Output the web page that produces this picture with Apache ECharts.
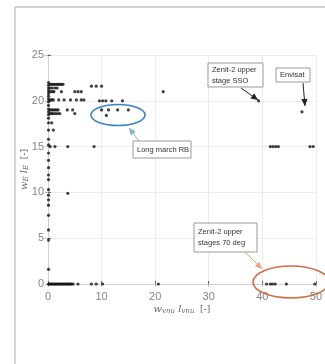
<!DOCTYPE html>
<html><head><meta charset="utf-8">
<script src="https://cdn.jsdelivr.net/npm/echarts@6/dist/echarts.min.js"></script>
<style>html,body{margin:0;padding:0;background:#fff}#c{width:325px;height:364px}</style>
</head><body><div id="c"></div>
<script>
// x-axis ticks and y-axis ticks
const xTicks = [0, 10, 20, 30, 40, 50];
const yTicks = [0, 5, 10, 15, 20, 25];

// Column of objects near w_vnu*l_vnu = 0
const colX = [0.1,0.1,0.1,0.1,0.1,0.1,0.1,0.1,0.1,0.1,0.1,0.1,0.1,0.1,0.1,0.1,0.1,0.1,0.1,0.1,0.1,0.1,0.1,0.1,0.1,0.1,0.1,0.1,0.1,0.1,0.1];
const colY = [22.0,21.7,21.4,21.1,20.8,20.5,20.2,19.9,19.5,19.1,18.8,18.5,18.1,17.6,16.8,15.8,15.2,14.3,13.5,12.7,11.9,11.4,10.3,9.7,9.2,8.6,7.5,5.9,4.8,1.6,0.0];

// Upper clusters (y ~ 18-22)
const upX = [0.4,0.7,1.0,1.3,1.6,1.9,2.2,2.5,2.8,8.1,9.0,10.0,
             0.4,0.8,1.3,1.7,
             0.4,0.8,1.1,2.5,5.0,5.6,6.2,21.5,
             0.4,0.7,1.0,2.0,3.0,4.2,5.3,6.2,6.7,9.6,10.2,10.8,11.9,13.9,
             0.4,0.7,1.0,1.3,1.6,1.9,3.6,4.6,
             0.4,0.7,1.0,1.4,1.8,2.2,5.0,
             10.0,11.3,13.0,15.0,10.9,
             0.7,1.0];
const upY = [21.8,21.8,21.8,21.8,21.8,21.8,21.8,21.8,21.8,21.6,21.6,21.6,
             21.4,21.4,21.4,21.4,
             21.0,21.0,21.0,21.0,21.0,21.0,21.0,21.0,
             20.1,20.1,20.1,20.1,20.1,20.1,20.1,20.1,20.1,20.0,20.0,20.0,20.0,20.0,
             19.0,19.0,19.0,19.0,19.0,19.0,19.0,19.0,
             18.6,18.6,18.6,18.6,18.6,18.6,18.6,
             19.0,19.0,19.0,19.0,18.4,
             17.6,16.8];

// Middle row (y ~ 15) and isolated points
const midX = [0.4,1.3,3.7,8.6,41.5,42.0,42.5,43.0,48.9,49.5,3.7,39.3,47.4];
const midY = [15.0,15.0,15.0,15.0,15.0,15.0,15.0,15.0,15.0,15.0,9.9,20.0,18.8];

// Bottom row (y ~ 0)
const lowX = [0.2,0.4,0.6,0.8,1.0,1.2,1.4,1.6,1.8,2.0,2.2,2.4,2.6,2.8,3.0,3.2,3.4,3.6,3.8,4.0,4.2,4.4,4.7,5.6,8.1,9.0,10.2,20.6,40.8,41.5,41.9,42.4,44.5,49.8];
const lowY = [0,0,0,0,0,0,0,0,0,0,0,0,0,0,0,0,0,0,0,0,0,0,0,0,0,0,0,0,0,0,0,0,0,0];

const allX = [].concat(colX, upX, midX, lowX);
const allY = [].concat(colY, upY, midY, lowY);
const points = allX.map((x, i) => [x, allY[i]]);

const chart = echarts.init(document.getElementById('c'), null, {renderer: 'canvas'});
const lbl = {color: '#858585', fontSize: 11, fontFamily: 'Liberation Sans'};
const gridLine = {show: true, lineStyle: {color: '#ececec', width: 1}};
const labelRich = {
  it: {fontFamily: 'DejaVu Serif', fontStyle: 'italic', fontSize: 10, color: '#666'},
  sub: {fontFamily: 'DejaVu Serif', fontStyle: 'italic', fontSize: 7, color: '#666', verticalAlign: 'bottom', padding: [4, 0, 0, 0]},
  n: {fontFamily: 'DejaVu Sans', fontSize: 9, color: '#666'}
};

function arrowHead(x1, y1, x2, y2, color) {
  const a = Math.atan2(y2 - y1, x2 - x1), L = 7, W = 3.2;
  const bx = x2 - L * Math.cos(a), by = y2 - L * Math.sin(a);
  return {type: 'polygon', shape: {points: [[x2, y2], [bx + W * Math.sin(a), by - W * Math.cos(a)], [bx - W * Math.sin(a), by + W * Math.cos(a)]]}, style: {fill: color}, z: 10};
}
function arrow(x1, y1, x2, y2, color) {
  return [{type: 'line', shape: {x1, y1, x2, y2}, style: {stroke: color, lineWidth: 1}, z: 10}, arrowHead(x1, y1, x2, y2, color)];
}
function box(x, y, w, h, text) {
  return [{type: 'rect', shape: {x, y, width: w, height: h}, style: {fill: '#fff', stroke: '#999', lineWidth: 1}, z: 11},
          {type: 'text', x: x + 4, y: y + h / 2, style: {text, fill: '#333', fontSize: 7.5, fontFamily: 'Liberation Sans', verticalAlign: 'middle', lineHeight: 11}, z: 12}];
}

const graphics = [
  {type: 'line', shape: {x1: 15, y1: 7, x2: 325, y2: 7}, style: {stroke: '#c4c4c4', lineWidth: 1.5}},
  {type: 'line', shape: {x1: 15, y1: 7, x2: 15, y2: 364}, style: {stroke: '#c4c4c4', lineWidth: 1.5}},
  {type: 'ellipse', shape: {cx: 118, cy: 115, rx: 27, ry: 10.5}, style: {fill: 'none', stroke: '#3b82c4', lineWidth: 1.6}, z: 9},
  {type: 'ellipse', shape: {cx: 291, cy: 282, rx: 38, ry: 16}, style: {fill: 'none', stroke: '#d06d45', lineWidth: 1.6}, z: 9},
  ...arrow(139, 141, 129, 128, '#7fb2e0'),
  ...box(133, 141, 58, 17, 'Long march RB'),
  ...arrow(241, 88, 258, 100, '#222'),
  ...box(208, 63, 55, 24, 'Zenit-2 upper\nstage SSO'),
  ...arrow(303, 83, 305, 106, '#222'),
  ...box(276, 68, 34, 14, 'Envisat'),
  ...arrow(245, 252, 262, 269, '#eba37f'),
  ...box(194, 223, 63, 29, 'Zenit-2 upper\nstages 70 deg')
];

chart.setOption({
  animation: false,
  backgroundColor: '#fff',
  grid: {left: 48, right: 8, top: 55, bottom: 80},
  xAxis: [{
    type: 'value', min: xTicks[0], max: xTicks[xTicks.length - 1], interval: 10,
    axisLine: {show: true, onZero: false, lineStyle: {color: '#666', width: 1}},
    axisTick: {show: true, inside: true, length: 3, lineStyle: {color: '#666'}},
    axisLabel: Object.assign({margin: 7}, lbl),
    splitLine: gridLine,
    name: '{it|w}{sub|vnu}{it| l}{sub|vnu}{n|  [-]}',
    nameLocation: 'middle', nameGap: 20, nameMoveOverlap: false,
    nameTextStyle: {rich: labelRich}
  }, {
    type: 'value', position: 'top', min: 0, max: 50, interval: 10,
    axisLine: {show: true, lineStyle: {color: '#d0d0d0'}},
    axisTick: {show: true, inside: true, length: 3, lineStyle: {color: '#bbb'}},
    axisLabel: {show: false}, splitLine: {show: false}
  }],
  yAxis: [{
    type: 'value', min: yTicks[0], max: yTicks[yTicks.length - 1], interval: 5,
    axisLine: {show: true, onZero: false, lineStyle: {color: '#666', width: 1}},
    axisTick: {show: true, inside: true, length: 3, lineStyle: {color: '#666'}},
    axisLabel: Object.assign({margin: 4}, lbl),
    splitLine: gridLine,
    name: '{it|w}{sub|E}{it| l}{sub|E}{n|  [-]}',
    nameLocation: 'middle', nameGap: 18, nameRotate: 90, nameMoveOverlap: false,
    nameTextStyle: {rich: labelRich}
  }, {
    type: 'value', position: 'right', min: 0, max: 25, interval: 5,
    axisLine: {show: true, lineStyle: {color: '#d0d0d0'}},
    axisTick: {show: true, inside: true, length: 3, lineStyle: {color: '#bbb'}},
    axisLabel: {show: false}, splitLine: {show: false}
  }],
  series: [{
    type: 'scatter', data: points, symbol: 'circle', symbolSize: 3.2,
    itemStyle: {color: '#111'}, z: 5
  }],
  graphic: graphics
});
</script>
</body></html>
